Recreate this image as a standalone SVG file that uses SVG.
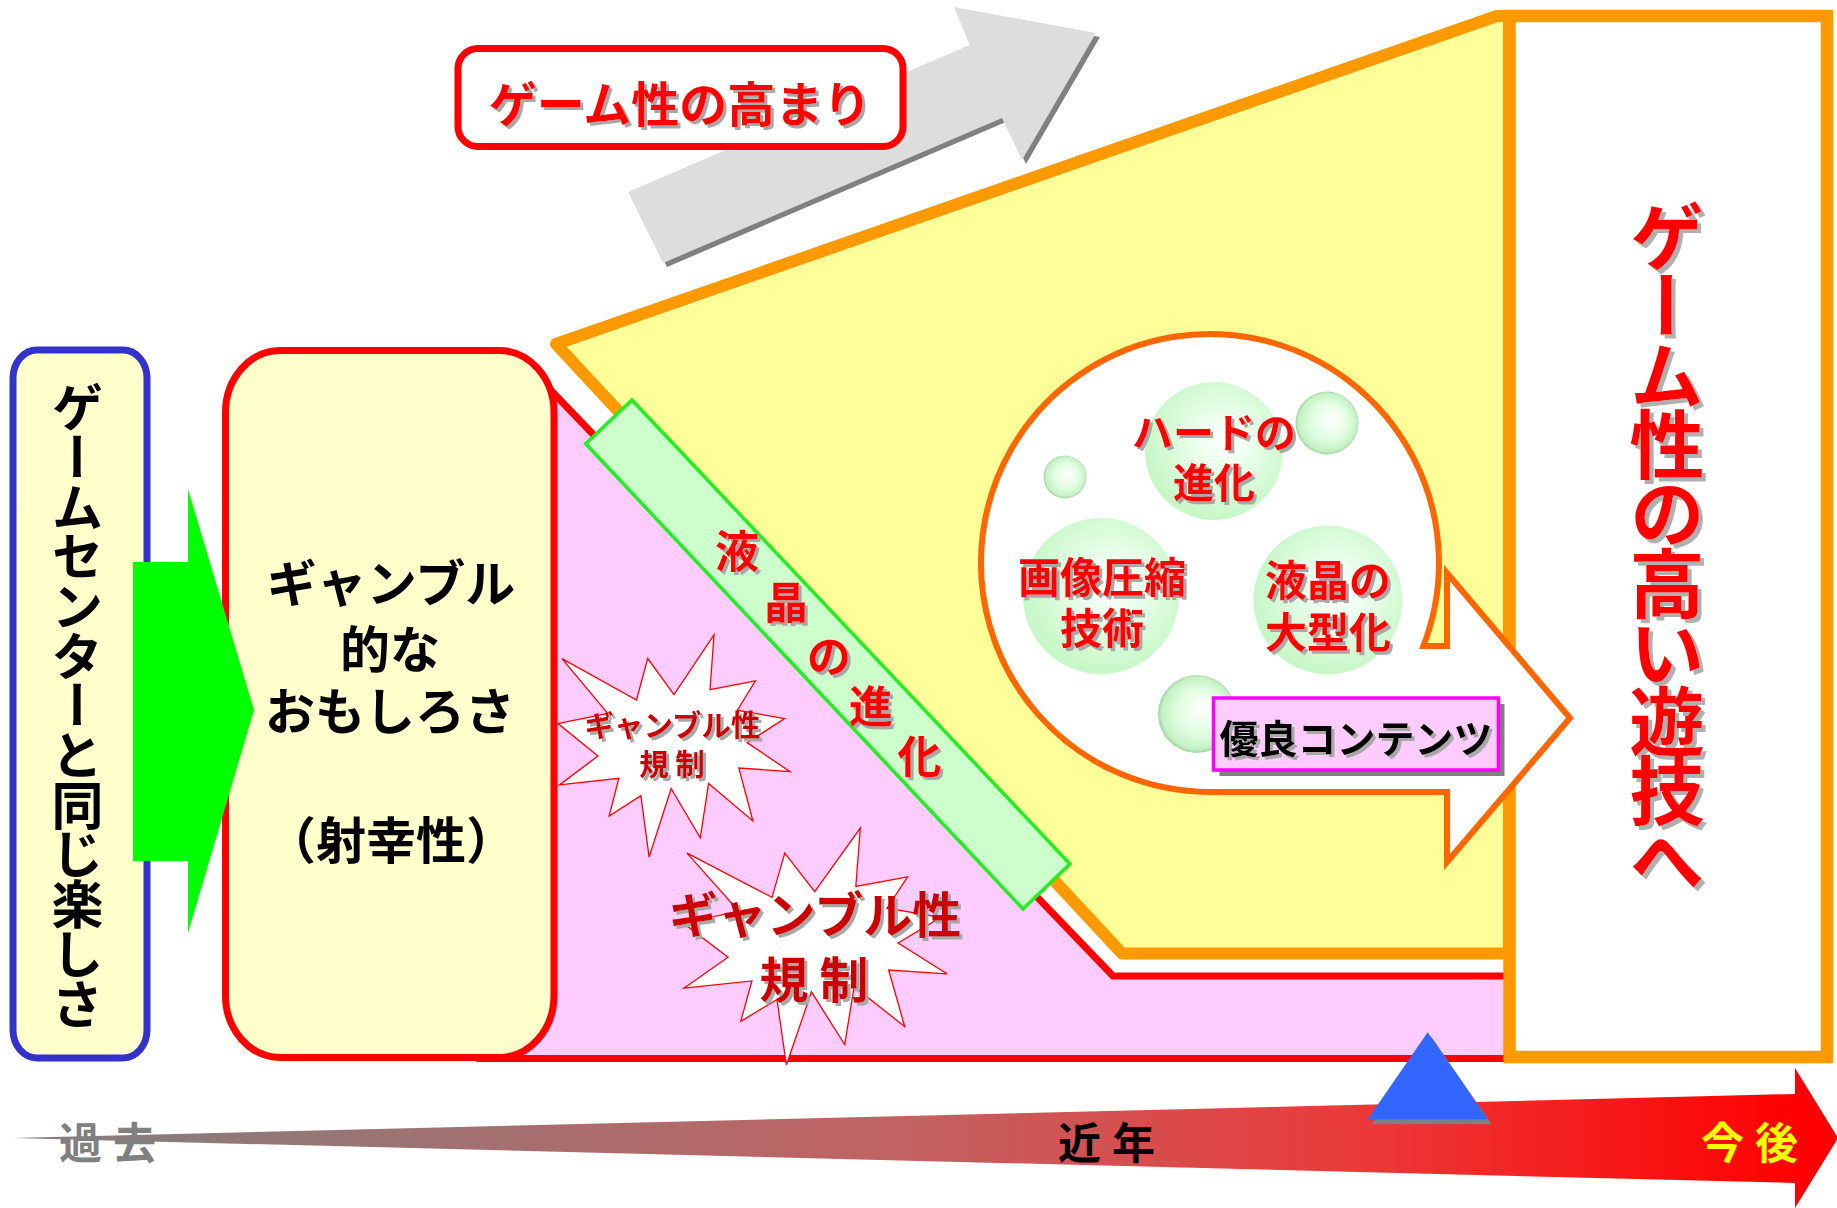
<svg xmlns="http://www.w3.org/2000/svg" xmlns:xlink="http://www.w3.org/1999/xlink" width="1837" height="1208" viewBox="0 0 1837 1208">
<defs>
<style>
text { font-family: "Noto Sans CJK JP", "Noto Sans CJK SC", "DejaVu Sans", sans-serif; font-weight: bold; }
.c { text-anchor: middle; dominant-baseline: central; }
.vt { writing-mode: vertical-rl; text-anchor: middle; }
.red { fill: #ff0000; }
.dred { fill: #cc0000; }
.shd { filter: url(#sh); }
.shd4 { filter: url(#sh4); }
.sphere { fill: url(#gBig); }
.sphereS { fill: url(#gSmall); }
</style>
<filter id="sh" x="-20%" y="-20%" width="140%" height="140%">
<feOffset in="SourceAlpha" dx="2.5" dy="2.5" result="o"/>
<feFlood flood-color="#a8a8a8"/>
<feComposite in2="o" operator="in" result="s"/>
<feMerge><feMergeNode in="s"/><feMergeNode in="SourceGraphic"/></feMerge>
</filter>
<filter id="sh4" x="-20%" y="-20%" width="140%" height="140%">
<feOffset in="SourceAlpha" dx="4" dy="4" result="o"/>
<feFlood flood-color="#b0b0b0"/>
<feComposite in2="o" operator="in" result="s"/>
<feMerge><feMergeNode in="s"/><feMergeNode in="SourceGraphic"/></feMerge>
</filter>
<radialGradient id="gBig" cx="0.55" cy="0.45" r="0.55" fx="0.58" fy="0.42">
<stop offset="0" stop-color="#ffffff"/>
<stop offset="0.3" stop-color="#effff0"/>
<stop offset="1" stop-color="#c6f7c6"/>
</radialGradient>
<radialGradient id="gSmall" cx="0.5" cy="0.5" r="0.52" fx="0.6" fy="0.42">
<stop offset="0" stop-color="#ffffff"/>
<stop offset="0.55" stop-color="#e2fde2"/>
<stop offset="0.88" stop-color="#c4f2c4"/>
<stop offset="1" stop-color="#9cc49c"/>
</radialGradient>
<linearGradient id="gTime" gradientUnits="userSpaceOnUse" x1="12" y1="0" x2="1800" y2="0">
<stop offset="0" stop-color="#808080"/>
<stop offset="0.5" stop-color="#c26262"/>
<stop offset="0.75" stop-color="#ea3a3a"/>
<stop offset="1" stop-color="#ff0000"/>
</linearGradient>
<polygon id="seal" points="10800,5800 14522,0 14155,5325 18380,4457 16702,7315 21097,8137 17607,10475 21600,13290 16837,12942 18145,18095 14020,14457 13247,19737 10532,14935 8485,21600 7715,15627 4762,17617 5667,13937 135,14587 3722,11775 0,8615 4627,7617 370,2295 7312,6320 8352,2295" fill="#ffffff" stroke="#ff0000" stroke-width="1.3" vector-effect="non-scaling-stroke"/>
</defs>

<rect x="0" y="0" width="1837" height="1208" fill="#ffffff"/>

<!-- timeline -->
<g id="timeline">
<polygon points="12,1138 1795,1094 1795,1068 1838,1138 1795,1208 1795,1183" fill="url(#gTime)"/>
<text x="59" y="1139.5" font-size="43" letter-spacing="11" fill="#808080" dominant-baseline="central">過去</text>
<text x="1058" y="1139.5" font-size="43" letter-spacing="11" fill="#000000" dominant-baseline="central">近年</text>
<text x="1701" y="1139.5" font-size="43" letter-spacing="11" fill="#ffff00" dominant-baseline="central">今後</text>
</g>

<!-- trend arrow -->
<g id="trend-arrow">
<polygon points="632,196 973.5,49 958,11 1100,37 1026,164 1006,122 667,267" fill="#808080"/>
<polygon points="628,192 969.5,45 954,7 1096,33 1022,160 1002,118 663,263" fill="#dddddd"/>
</g>

<g id="node-trend-label">
<rect x="458" y="48.5" width="445" height="98" rx="20" ry="20" fill="#ffffff" stroke="#ff0000" stroke-width="7"/>
<text class="c red shd" x="680" y="101" font-size="48">ゲーム性の高まり</text>
</g>

<!-- pink region: gambling regulation -->
<g id="node-pink-region">
<polygon points="540,379 1113,976 1509,976 1509,1058.5 480,1058.5" fill="#ffccff" stroke="#ff0000" stroke-width="7"/>
</g>

<g id="node-regulation-small">
<use xlink:href="#seal" href="#seal" transform="translate(558,635) scale(0.010741,0.010278)"/>
<text class="c dred shd" font-size="29.5"><tspan x="672.5" y="722.5">ギャンブル性</tspan><tspan x="672" y="762">規 制</tspan></text>
</g>

<g id="node-regulation-large">
<use xlink:href="#seal" href="#seal" transform="translate(682.5,828) scale(0.012245,0.010972)"/>
<text class="c dred shd" font-size="49"><tspan x="815" y="911">ギャンブル性</tspan><tspan x="814" y="976">規 制</tspan></text>
</g>

<!-- yellow region: game quality -->
<g id="node-yellow-region">
<polygon points="556,344 1497,16 1509,16 1509,953.5 1122,953.5" fill="#ffff99" stroke="#ff9900" stroke-width="12" stroke-linejoin="round"/>
</g>

<!-- right box -->
<g id="node-future">
<rect x="1509.5" y="16" width="317.5" height="1041" fill="#ffffff" stroke="#ff9900" stroke-width="12.5"/>
<text class="vt red shd4" x="1667" y="545.5" font-size="75" letter-spacing="-5.7">ゲーム性の高い遊技へ</text>
</g>

<!-- bubble arrow -->
<g id="node-tech-bubble">
<path d="M1210,792 A229,229 0 1,1 1423.4,646 L1447,646 L1447,573 L1570,718 L1447,862 L1447,792 Z" fill="#ffffff" stroke="#ff6600" stroke-width="6"/>
<circle class="sphere" cx="1214" cy="451" r="69"/>
<circle class="sphereS" cx="1327" cy="423" r="31.5"/>
<circle class="sphereS" cx="1065" cy="477" r="21.5"/>
<circle class="sphere" cx="1101" cy="596" r="78"/>
<circle class="sphere" cx="1328" cy="600" r="74.5"/>
<circle class="sphereS" cx="1197" cy="714" r="39"/>
<text class="c red shd" font-size="41"><tspan x="1214" y="429.5">ハードの</tspan><tspan x="1214" y="480">進化</tspan></text>
<text class="c red shd" font-size="42"><tspan x="1102" y="574">画像圧縮</tspan><tspan x="1102" y="625">技術</tspan></text>
<text class="c red shd" font-size="42"><tspan x="1328" y="577">液晶の</tspan><tspan x="1328" y="629">大型化</tspan></text>
</g>

<g id="node-contents">
<rect x="1219.5" y="704" width="285" height="72" fill="#808080"/>
<rect x="1213.5" y="698" width="285" height="72" fill="#ffccff" stroke="#ff00ff" stroke-width="3.5"/>
<text class="c shd" x="1356" y="736" font-size="39" fill="#000000">優良コンテンツ</text>
</g>

<!-- LCD evolution band -->
<g id="node-lcd-band">
<polygon points="585.7,443.8 632,400 1070,864 1023,909" fill="#ccffcc" stroke="#22ee22" stroke-width="3.5"/>
<text class="c red shd" font-size="44"><tspan x="737" y="548.5">液</tspan><tspan x="786" y="600">晶</tspan><tspan x="829" y="654">の</tspan><tspan x="871" y="704">進</tspan><tspan x="919.5" y="754">化</tspan></text>
</g>

<!-- left boxes -->
<g id="node-game-center">
<rect x="13" y="350" width="134" height="708" rx="24" ry="28" fill="#ffffcc" stroke="#3333cc" stroke-width="7"/>
<text class="vt" x="77.5" y="704.5" font-size="52" letter-spacing="-2.3" fill="#000000">ゲームセンターと同じ楽しさ</text>
</g>

<g id="node-gambling">
<rect x="225.5" y="350.5" width="328.5" height="707" rx="55" ry="62" fill="#ffffcc" stroke="#ff0000" stroke-width="7"/>
<text class="c" font-size="50" fill="#000000"><tspan x="391" y="580">ギャンブル</tspan><tspan x="390" y="645.5">的な</tspan><tspan x="390" y="708">おもしろさ</tspan><tspan x="391" y="837">（射幸性）</tspan></text>
</g>

<g id="node-now-marker">
<polygon points="1431.7,1037.3 1491.7,1124.3 1371.7,1124.3" fill="#808080"/>
<polygon points="1427.7,1032.3 1487.7,1119.3 1367.7,1119.3" fill="#3366ff"/>
</g>

<g id="connectors">
<polygon points="133,562 188,562 188,489 254,710 188,933 188,861 133,861" fill="#00ff00"/>
</g>
</svg>
